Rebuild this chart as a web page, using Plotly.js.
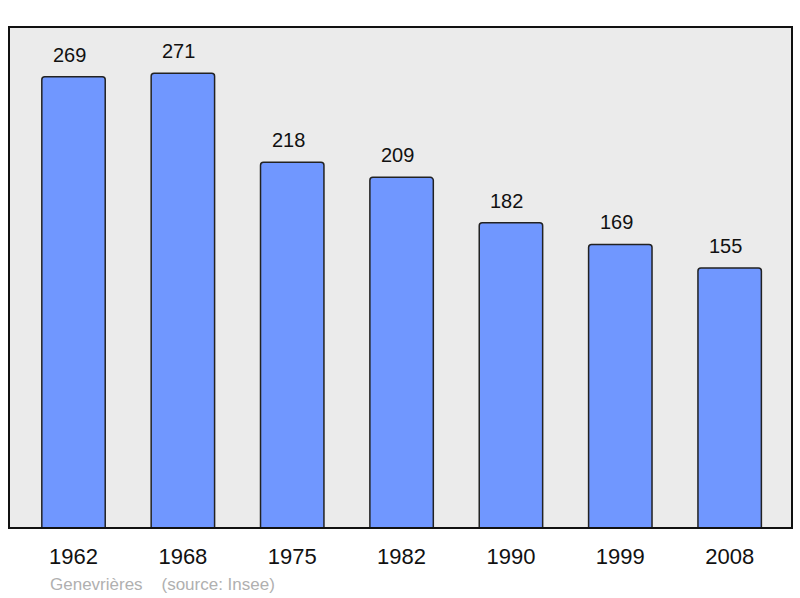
<!DOCTYPE html>
<html>
<head>
<meta charset="utf-8">
<script src="https://cdn.plot.ly/plotly-3.0.1.min.js"></script>
<style>html,body{margin:0;padding:0;background:#fff;}#chart{width:800px;height:598px;}</style>
</head>
<body>
<div id="chart"></div>
<script>
var years = ["1962", "1968", "1975", "1982", "1990", "1999", "2008"];
var population = [269, 271, 218, 209, 182, 169, 155];
var caption = "Genevrières    (source: Insee)";

var trace = {
  type: "bar",
  x: years,
  y: population,
  width: 0.58,
  marker: {color: "#7097ff", line: {color: "#222", width: 1.5}, cornerradius: 3},
  hoverinfo: "x+y"
};

var annotations = years.map(function (yr, i) {
  return {
    x: i, y: population[i], xref: "x", yref: "y",
    text: String(population[i]), showarrow: false,
    yanchor: "bottom", yshift: 9, xshift: -4,
    font: {family: "Liberation Sans, Arial, sans-serif", size: 20, color: "#111"}
  };
});
annotations.push({
  xref: "paper", yref: "paper", x: 0.05, y: -0.112, xanchor: "left", yanchor: "middle",
  text: caption, showarrow: false,
  font: {family: "Liberation Sans, Arial, sans-serif", size: 17, color: "#b0b0b0"}
});

var layout = {
  width: 800, height: 598,
  margin: {l: 9, r: 8, t: 27, b: 70},
  paper_bgcolor: "#ffffff",
  plot_bgcolor: "#ebebeb",
  showlegend: false,
  xaxis: {
    type: "category", range: [-0.59, 6.57],
    showgrid: false, zeroline: false, showline: false,
    ticks: "outside", ticklen: 9, tickcolor: "rgba(0,0,0,0)",
    tickfont: {family: "Liberation Sans, Arial, sans-serif", size: 22, color: "#111"},
    fixedrange: true
  },
  yaxis: {
    range: [0, 298.6], showgrid: false, zeroline: false, showline: false,
    showticklabels: false, ticks: "", fixedrange: true
  },
  shapes: [{
    type: "rect", xref: "paper", yref: "paper", x0: 0, x1: 1, y0: 0, y1: 1,
    line: {color: "#111", width: 2}, layer: "above"
  }],
  annotations: annotations
};

Plotly.newPlot("chart", [trace], layout, {displayModeBar: false, staticPlot: true});
</script>
</body>
</html>
